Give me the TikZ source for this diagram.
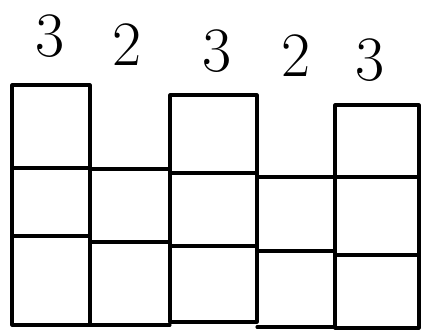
\documentclass[tikz,border=0pt]{standalone}
\usetikzlibrary{positioning}

\begin{document}
\begin{tikzpicture}[
  x=0.03cm, y=-0.03cm,
  cell/.style={line width=2.6pt, line cap=round, line join=round},
  digit/.style={font=\fontsize{54}{54}\selectfont, inner sep=0pt}
]
\useasboundingbox (0,0) rectangle (424,331);

% ===== 列高数字 =====
\node[digit] (d1) at (50,36)  {3};
\node[digit] (d2) at (127,45) {2};
\node[digit] (d3) at (217,51) {3};
\node[digit] (d4) at (296,56) {2};
\node[digit] (d5) at (370,60) {3};

% ===== 第 1 列：3 格 =====
\draw[cell] (12,85) rectangle (90,325);
\draw[cell] (12,168) -- (90,168);
\draw[cell] (12,236) -- (90,236);

% ===== 第 2 列：2 格 =====
\draw[cell] (90,169) -- (170,169);
\draw[cell] (90,242) -- (170,242);
\draw[cell] (90,325) -- (170,325);

% ===== 第 3 列：3 格 =====
\draw[cell] (170,95) rectangle (257,322);
\draw[cell] (170,173) -- (257,173);
\draw[cell] (170,246) -- (257,246);

% ===== 第 4 列：2 格 =====
\draw[cell] (257,177) -- (335,177);
\draw[cell] (257,251) -- (335,251);
\draw[cell] (257,327) -- (335,327);

% ===== 第 5 列：3 格 =====
\draw[cell] (335,105) rectangle (419,328);
\draw[cell] (335,177) -- (419,177);
\draw[cell] (335,255) -- (419,255);

\end{tikzpicture}
\end{document}
